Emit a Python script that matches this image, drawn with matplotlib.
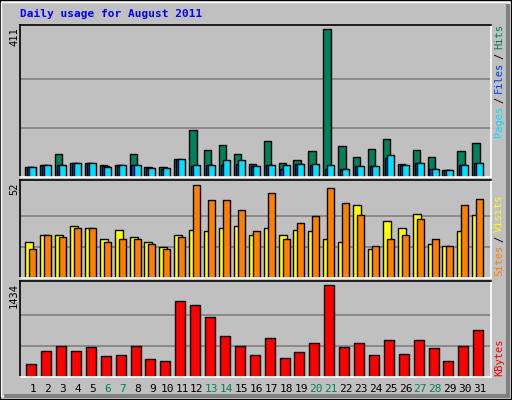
import matplotlib
matplotlib.use("Agg")
import matplotlib.pyplot as plt
from matplotlib.patches import Rectangle
import numpy as np

days = list(range(1, 32))
hits = [27,34,65,40,40,34,34,65,29,29,51,132,76,90,65,37,101,40,48,73,411,85,57,79,107,37,76,57,20,73,96]
files = [27,34,34,40,40,32,34,34,26,22,48,32,34,34,37,32,34,23,37,34,23,23,32,32,54,34,40,23,20,34,40]
pages = [27,34,34,40,40,29,34,34,26,26,51,34,34,46,46,32,34,34,37,37,34,23,32,32,62,34,40,23,20,34,40]
visits = [20,24,24,29,28,22,27,23,20,17.5,24,27,26,28,29,24,28,24,27,26,22,20,41,16,32,28,36,19,18,26,35]
sites = [16,24,23,28,28,20,22,21.5,19,16,23,52,43.5,43.5,38,26,47.5,21.5,30.5,34.5,50,42,35,18,21.5,24,33,21.5,18,41,44]
kbytes = [209,398,476,398,461,319,335,476,272,256,1183,1120,932,633,476,335,602,288,382,523,1434,461,523,335,570,351,570,445,241,476,727]
weekend = [6,7,13,14,20,21,27,28]

W, H = 512, 400
BG = "#C0C0C0"
fig = plt.figure(figsize=(W/100, H/100), dpi=100, facecolor=BG)
mono = "DejaVu Sans Mono"

def fx(x): return x / W
def fy(y): return 1 - y / H

# outer bevel
fig.patches.append(Rectangle((0, 0), 1, 1, transform=fig.transFigure, fill=False, ec="black", lw=1.5))
fig.patches.append(Rectangle((fx(1), fy(396)), fx(509)-fx(1), fy(2)-fy(396), transform=fig.transFigure, fill=False, ec="white", lw=1))
fig.patches.append(Rectangle((fx(4), fy(398)), fx(510)-fx(4), fy(394)-fy(398), transform=fig.transFigure, color="#808080", lw=0))
fig.patches.append(Rectangle((fx(506), fy(398)), fx(510)-fx(506), fy(4)-fy(398), transform=fig.transFigure, color="#808080", lw=0))

x0, x1 = 20, 491
xl = (0.13, 31.74)
x = np.array(days)

def make_ax(ytop, ybot, ymax, maxval):
    ax = fig.add_axes([fx(x0), fy(ybot), fx(x1)-fx(x0), fy(ytop)-fy(ybot)])
    ax.set_facecolor(BG)
    ax.set_xlim(*xl)
    ax.set_ylim(0, ymax)
    for g in (maxval/3, 2*maxval/3):
        ax.axhline(g, color="#808080", lw=1.2, zorder=0)
    ax.set_xticks([]); ax.set_yticks([])
    for s in ("left", "top"):
        ax.spines[s].set_color("black")
    for s in ("right", "bottom"):
        ax.spines[s].set_color("white")
    for s in ax.spines.values():
        s.set_linewidth(1.2)
    return ax

bk = dict(edgecolor="black", linewidth=1, align="edge")
a1 = make_ax(25, 177, 423, 411)
a1.bar(x-0.52, hits, 0.5, color="#00805C", **bk)
a1.bar(x-0.39, files, 0.5, color="#0040FF", **bk)
a1.bar(x-0.25, pages, 0.47, color="#00E0FF", **bk)

a2 = make_ax(180, 278, 54.7, 52)
a2.bar(x-0.52, visits, 0.54, color="#FFFF00", **bk)
a2.bar(x-0.25, sites, 0.47, color="#FF8000", **bk)

a3 = make_ax(281, 377, 1490, 1434)
a3.bar(x-0.45, kbytes, 0.67, color="#FF0000", **bk)
a3.set_xticks(days)
a3.set_xticklabels([str(d) for d in days], family=mono, fontsize=8)
for d, t in zip(days, a3.get_xticklabels()):
    t.set_color("#00805C" if d in weekend else "black")
a3.tick_params(axis="x", length=0, pad=5)

fig.text(fx(20), fy(14), "Daily usage for August 2011", family=mono, weight="bold",
         fontsize=8, color="#0000FF", ha="left", va="center")

def vt(xp, yp, s, c):
    fig.text(fx(xp), fy(yp), s, rotation=90, family=mono, fontsize=7.5, color=c, ha="center", va="top")

vt(14, 27, "411", "black")
vt(14, 182, "52", "black")
vt(14, 283, "1434", "black")

def rlabel(yb, parts):
    y = yb
    for s, c in parts:
        fig.text(fx(499), fy(y), s, rotation=90, family=mono, fontsize=7.5, color=c, ha="center", va="bottom")
        y -= 6.0 * len(s) + 4
rlabel(137, [("Pages", "#00E0FF"), ("/", "black"), ("Files", "#0040FF"), ("/", "black"), ("Hits", "#00805C")])
rlabel(276, [("Sites", "#FF8000"), ("/", "black"), ("Visits", "#FFFF00")])
rlabel(376, [("KBytes", "#FF0000")])

fig.savefig("out.png", dpi=100, facecolor=BG)
